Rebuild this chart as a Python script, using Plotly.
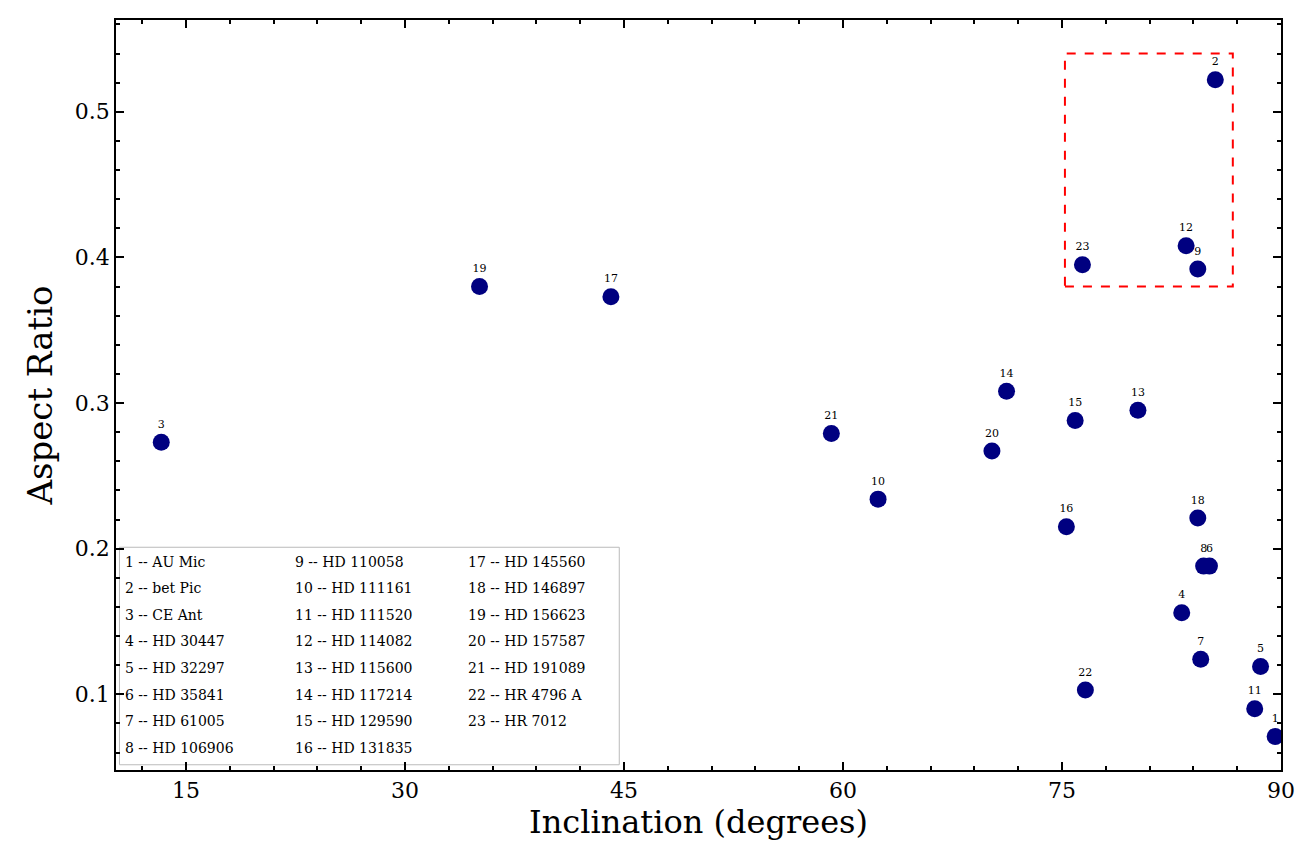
import plotly.graph_objects as go

names = ["AU Mic", "bet Pic", "CE Ant", "HD 30447", "HD 32297", "HD 35841", "HD 61005",
         "HD 106906", "HD 110058", "HD 111161", "HD 111520", "HD 114082", "HD 115600",
         "HD 117214", "HD 129590", "HD 131835", "HD 145560", "HD 146897", "HD 156623",
         "HD 157587", "HD 191089", "HR 4796 A", "HR 7012"]
inclination = [89.6, 85.5, 13.3, 83.2, 88.6, 85.1, 84.5, 84.7, 84.3, 62.4, 88.2, 83.5, 80.2,
               71.2, 75.9, 75.3, 44.1, 84.3, 35.1, 70.2, 59.2, 76.6, 76.4]
aspect = [0.071, 0.522, 0.273, 0.156, 0.119, 0.188, 0.124, 0.188, 0.392, 0.234, 0.090, 0.408,
          0.295, 0.308, 0.288, 0.215, 0.373, 0.221, 0.380, 0.267, 0.279, 0.103, 0.395]
labels = [str(i + 1) for i in range(len(names))]

font = "DejaVu Serif"
fig = go.Figure()
fig.add_trace(go.Scatter(x=inclination, y=aspect, mode="markers+text", text=labels,
                         textposition="top center", textfont=dict(size=11, family=font, color="black"),
                         marker=dict(size=17, color="#000080"), showlegend=False))

# highlight box
fig.add_shape(type="rect", x0=75.2, x1=86.7, y0=0.380, y1=0.540,
              line=dict(color="red", width=2, dash="dash"))

# key box, one annotation per entry
xs = [0.006, 0.152, 0.300]
for i, n in enumerate(names):
    col, row = i // 8, i % 8
    fig.add_annotation(xref="paper", yref="paper", x=xs[col], y=0.278 - row * 0.0355,
                       xanchor="left", yanchor="middle", text=f"{i + 1} -- {n}", showarrow=False,
                       font=dict(family=font, size=14, color="black"))
fig.add_shape(type="rect", xref="paper", yref="paper", x0=0.003, x1=0.432, y0=0.007, y1=0.297,
              line=dict(color="#bbbbbb", width=1), fillcolor="rgba(255,255,255,0.9)", layer="below")

axis = dict(ticks="inside", mirror="ticks", showline=True, linecolor="black", linewidth=1.5,
            ticklen=8, tickwidth=1.5, tickcolor="black", showgrid=False, zeroline=False,
            tickfont=dict(family=font, size=22, color="black"))
fig.update_xaxes(**axis, range=[10.2, 90], tickvals=[15, 30, 45, 60, 75, 90],
                 minor=dict(ticks="inside", ticklen=4, tickcolor="black", dtick=3, tick0=0),
                 title=dict(text="Inclination (degrees)", font=dict(family=font, size=32, color="black"), standoff=6))
fig.update_yaxes(**axis, range=[0.048, 0.563], tickvals=[0.1, 0.2, 0.3, 0.4, 0.5],
                 minor=dict(ticks="inside", ticklen=4, tickcolor="black", dtick=0.02, tick0=0),
                 title=dict(text="Aspect Ratio", font=dict(family=font, size=34, color="black"), standoff=12))
fig.update_layout(width=1307, height=844, plot_bgcolor="white", paper_bgcolor="white",
                  margin=dict(l=108, r=34, t=10, b=82))
fig.write_html("out.html")
